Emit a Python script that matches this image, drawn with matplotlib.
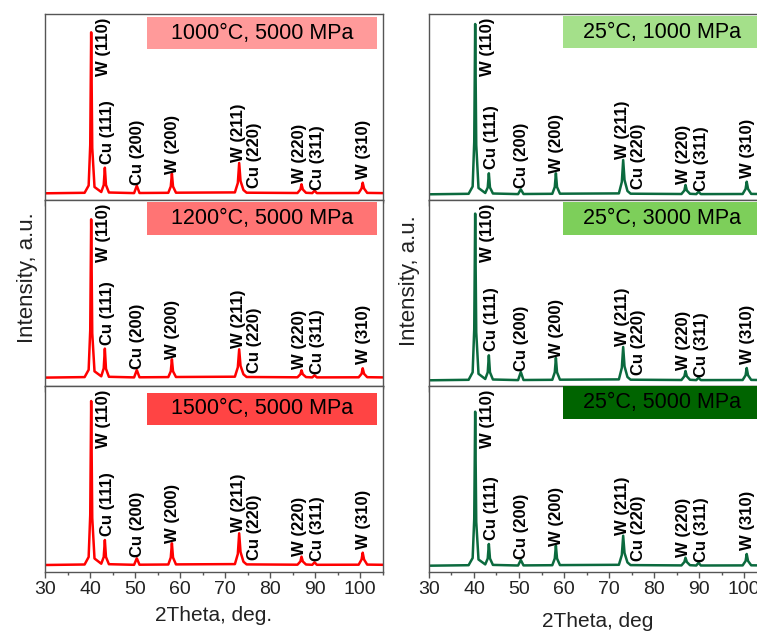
import matplotlib.pyplot as plt
from matplotlib.patches import Rectangle
from matplotlib.ticker import MultipleLocator

plt.rcParams['font.family'] = ['Liberation Sans', 'DejaVu Sans']

# 2theta sampling points (deg)
two_theta = [30.0, 38.8, 39.7, 40.05, 40.26, 40.5, 41.0, 42.5, 43.05, 43.3, 43.55, 44.2,
             49.8, 50.4, 51.0, 57.4, 57.95, 58.2, 58.45, 59.1, 72.2, 72.85, 73.15, 73.45,
             74.1, 74.8, 86.1, 86.75, 87.0, 87.3, 88.0, 89.4, 89.9, 90.4, 99.7, 100.35,
             100.6, 100.9, 101.6, 105.0]

# intensities (a.u.), one list per sample
i_1000c = [6.7, 7.2, 14.5, 55, 167.7, 52, 13, 8.0, 15, 32.3, 15, 7.5, 6.9, 14.3, 7.0, 7.2,
           13.5, 26.3, 13.5, 7.3, 7.6, 17, 37, 19, 10, 7.3, 7.0, 10.5, 15.7, 10.5, 7.2,
           6.9, 9.3, 6.9, 7.0, 11.5, 17.3, 11.5, 7.1, 6.9]
i_1200c = [8.7, 9.2, 16.5, 56, 167, 53, 15, 10, 18, 37.7, 17.5, 9.5, 8.9, 16.3, 9.0, 9.2,
           15, 27, 15, 9.3, 9.6, 19, 37, 20.5, 12, 9.3, 9.0, 12, 16, 12, 9.2, 8.9, 11, 8.9,
           9.0, 12.5, 18, 12.5, 9.1, 8.9]
i_1500c = [7.0, 7.5, 15, 57, 171, 54, 13.5, 8.3, 15, 32, 15, 7.8, 7.2, 13.7, 7.3, 7.5,
           14.5, 28.7, 14.5, 7.6, 7.9, 18, 38.7, 20, 10.3, 7.6, 7.3, 10.5, 15.3, 10.5, 7.5,
           7.2, 9.7, 7.2, 7.3, 12.5, 19.3, 12.5, 7.4, 7.2]
i_25c_1000 = [5.7, 6.2, 13.5, 58, 176, 55, 12, 7.0, 12.5, 26.7, 12.5, 6.5, 5.9, 10.7, 6.0,
              6.2, 13, 26.7, 13, 6.3, 6.6, 18, 40, 20, 9, 6.3, 6.0, 9.5, 15, 9.5, 6.2, 5.9,
              8.3, 5.9, 6.0, 11, 18.3, 11, 6.1, 5.9]
i_25c_3000 = [6.0, 6.5, 14, 57, 172.7, 54, 12.5, 7.3, 14, 31, 14, 6.8, 6.2, 14.3, 6.3, 6.5,
              14, 28.3, 14, 6.6, 6.9, 18.5, 39.3, 20, 9.3, 6.6, 6.3, 10, 15.3, 10, 6.5, 6.2,
              8.7, 6.2, 6.3, 11, 18.3, 11, 6.4, 6.2]
i_25c_5000 = [6.3, 6.8, 14, 53, 160.3, 50, 12.5, 7.6, 13.5, 28, 13.5, 7.1, 6.5, 12, 6.6, 6.8,
              13.5, 26.3, 13.5, 6.9, 7.2, 17, 36.3, 19, 9.6, 6.9, 6.6, 10, 14.3, 10, 6.8,
              6.5, 9.3, 6.5, 6.6, 11, 18, 11, 6.7, 6.5]

peak_names = ['W (110)', 'Cu (111)', 'Cu (200)', 'W (200)', 'W (211)', 'Cu (220)',
              'W (220)', 'Cu (311)', 'W (310)']
peak_pos = [40.26, 43.3, 50.4, 58.2, 73.15, 74.1, 87.0, 89.9, 100.6]

titles_left = ['1000°C, 5000 MPa', '1200°C, 5000 MPa', '1500°C, 5000 MPa']
titles_right = ['25°C, 1000 MPa', '25°C, 3000 MPa', '25°C, 5000 MPa']

# label placement (x in deg, offset above the peak top)
label_x = [42.9, 43.9, 50.55, 58.25, 73.1, 76.5, 86.5, 90.6, 100.85]
label_dy = [None, 4, 1, 0, 1, None, 1, 1, 4]

fig = plt.figure(figsize=(7.57, 6.32), dpi=100)
W, H = 757.0, 632.0
col_x = [45 / W, 429 / W]
ax_w = 337.5 / W
row_bottom = [(H - 200) / H, (H - 386.3) / H, (H - 572) / H]
ax_h = 186 / H

panels = [
    (0, 0, i_1000c, titles_left[0], '#ff9a9a', 'red', 0.81),
    (0, 1, i_1200c, titles_left[1], '#ff7474', 'red', 0.815),
    (0, 2, i_1500c, titles_left[2], '#ff4444', 'red', 0.79),
    (1, 0, i_25c_1000, titles_right[0], '#a4e08a', '#0b6a3e', 0.815),
    (1, 1, i_25c_3000, titles_right[1], '#7dcf5a', '#0b6a3e', 0.815),
    (1, 2, i_25c_5000, titles_right[2], '#006400', '#0b6a3e', 0.823),
]

for col, row, ys, title, box_color, line_color, box_y in panels:
    ax = fig.add_axes([col_x[col], row_bottom[row], ax_w, ax_h])
    ax.plot(two_theta, ys, color=line_color, lw=1.8, solid_joinstyle='round')
    ax.set_xlim(30, 105)
    ax.set_ylim(0, 186)
    ax.set_yticks([])
    ax.set_xticks(range(30, 101, 10))
    ax.xaxis.set_minor_locator(MultipleLocator(5))
    ax.tick_params(axis='x', which='major', direction='out', length=4.5, width=1,
                   color='#555555', labelsize=14, labelcolor='#222222', pad=2,
                   labelbottom=(row == 2))
    ax.tick_params(axis='x', which='minor', direction='out', length=2.5, width=1,
                   color='#555555')
    for sp in ax.spines.values():
        sp.set_color('#555555')
        sp.set_linewidth(1)

    x0 = 0.303 if col == 0 else 0.397
    x1 = 0.985 if col == 0 else 1.0
    ax.add_patch(Rectangle((x0, box_y), x1 - x0, 0.175, transform=ax.transAxes,
                           facecolor=box_color, edgecolor='none', zorder=3))
    xc = (x0 + x1) / 2 if col == 0 else 0.69
    ax.text(xc, box_y + 0.0875, title, transform=ax.transAxes, ha='center',
            va='center', fontsize=15.5, color='black', zorder=4)

    base = ys[0]
    for name, p, lx, dy in zip(peak_names, peak_pos, label_x, label_dy):
        top = max(y for x, y in zip(two_theta, ys) if abs(x - p) < 0.3)
        if name == 'W (110)':
            ly = 124
        elif name == 'Cu (220)':
            ly = base + 5
        else:
            ly = top + dy
        ax.text(lx, ly, name, rotation=90, ha='center', va='bottom', fontsize=12,
                fontweight='bold', color='black', zorder=5)

    if row == 2:
        ax.set_xlabel('2Theta, deg.' if col == 0 else '2Theta, deg', fontsize=15,
                      color='#222222', labelpad=6 if col == 0 else 10)

fig.text(27.5 / W, 1 - 278 / H, 'Intensity, a.u.', rotation=90, ha='center',
         va='center', fontsize=16, color='#222222')
fig.text(409 / W, 1 - 281 / H, 'Intensity, a.u.', rotation=90, ha='center',
         va='center', fontsize=16, color='#222222')

fig.savefig('out.png', dpi=100)
